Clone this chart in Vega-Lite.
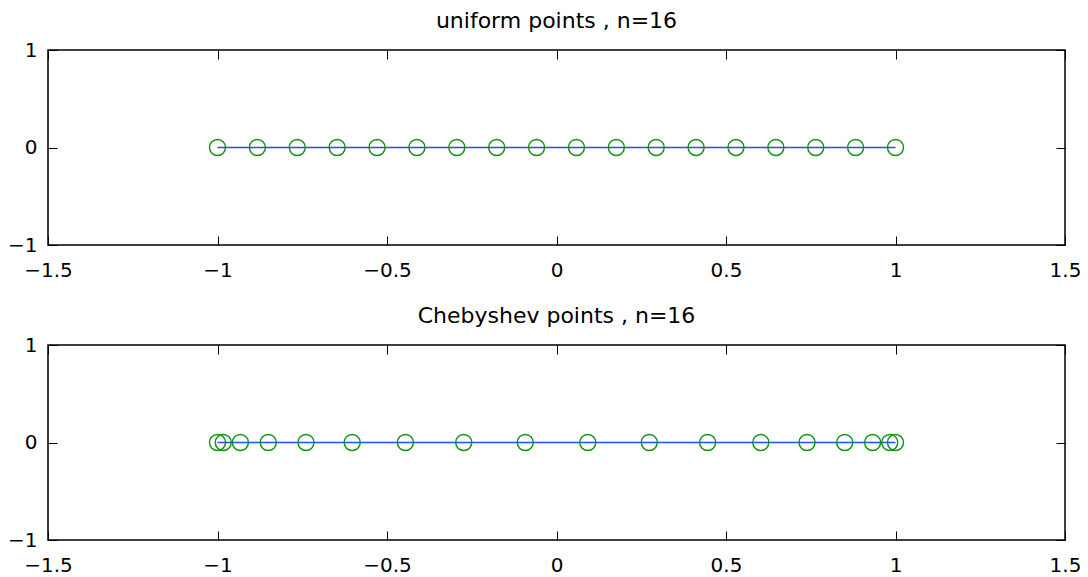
{
  "$schema": "https://vega.github.io/schema/vega-lite/v6.json",
  "autosize": {"type": "pad"},
  "bounds": "flush",
  "padding": {"left": 6, "top": 9, "right": 0, "bottom": 0},
  "spacing": 100,
  "background": "white",
  "config": {
    "view": {"stroke": "#000000", "strokeWidth": 1.5},
    "font": "DejaVu Sans",
    "title": {"font": "DejaVu Sans", "fontSize": 22, "fontWeight": "normal", "color": "#000000", "anchor": "middle", "baseline": "alphabetic", "offset": 7},
    "axis": {
      "labelFont": "DejaVu Sans", "labelFontSize": 20, "labelColor": "#000000",
      "tickColor": "#000000", "tickSize": -9, "tickWidth": 1,
      "grid": false, "domain": false, "title": null,
      "labelFlush": false, "labelOverlap": false, "format": "~g"
    }
  },
  "datasets": {
    "uniform": [
      {"x": -1, "y": 0}, {"x": -0.882353, "y": 0}, {"x": -0.764706, "y": 0}, {"x": -0.647059, "y": 0},
      {"x": -0.529412, "y": 0}, {"x": -0.411765, "y": 0}, {"x": -0.294118, "y": 0}, {"x": -0.176471, "y": 0},
      {"x": -0.058824, "y": 0}, {"x": 0.058824, "y": 0}, {"x": 0.176471, "y": 0}, {"x": 0.294118, "y": 0},
      {"x": 0.411765, "y": 0}, {"x": 0.529412, "y": 0}, {"x": 0.647059, "y": 0}, {"x": 0.764706, "y": 0},
      {"x": 0.882353, "y": 0}, {"x": 1, "y": 0}
    ],
    "cheb": [
      {"x": -1, "y": 0}, {"x": -0.982973, "y": 0}, {"x": -0.932472, "y": 0}, {"x": -0.850217, "y": 0},
      {"x": -0.739009, "y": 0}, {"x": -0.602635, "y": 0}, {"x": -0.445738, "y": 0}, {"x": -0.273663, "y": 0},
      {"x": -0.092268, "y": 0}, {"x": 0.092268, "y": 0}, {"x": 0.273663, "y": 0}, {"x": 0.445738, "y": 0},
      {"x": 0.602635, "y": 0}, {"x": 0.739009, "y": 0}, {"x": 0.850217, "y": 0}, {"x": 0.932472, "y": 0},
      {"x": 0.982973, "y": 0}, {"x": 1, "y": 0}
    ]
  },
  "vconcat": [
    {
      "title": "uniform points , n=16",
      "data": {"name": "uniform"},
      "width": 1017, "height": 195,
      "layer": [
        {
          "mark": {"type": "line", "color": "#2050ff", "strokeWidth": 1.4},
          "encoding": {
            "x": {"field": "x", "type": "quantitative", "scale": {"domain": [-1.5, 1.5], "nice": false, "zero": false},
                  "axis": {"orient": "bottom", "values": [-1.5, -1, -0.5, 0, 0.5, 1, 1.5], "labelPadding": 24}},
            "y": {"field": "y", "type": "quantitative", "scale": {"domain": [-1, 1], "nice": false},
                  "axis": {"orient": "left", "values": [-1, 0, 1], "labelPadding": 20}}
          }
        },
        {
          "mark": {"type": "point", "shape": "circle", "filled": false, "color": "#109010", "size": 256, "strokeWidth": 1.4, "opacity": 1},
          "encoding": {
            "x": {"field": "x", "type": "quantitative", "scale": {"domain": [-1.5, 1.5], "nice": false, "zero": false},
                  "axis": {"orient": "top", "values": [-1.5, -1, -0.5, 0, 0.5, 1, 1.5], "labels": false}},
            "y": {"field": "y", "type": "quantitative", "scale": {"domain": [-1, 1], "nice": false},
                  "axis": {"orient": "right", "values": [-1, 0, 1], "labels": false}}
          }
        }
      ],
      "resolve": {"axis": {"x": "independent", "y": "independent"}}
    },
    {
      "title": "Chebyshev points , n=16",
      "data": {"name": "cheb"},
      "width": 1017, "height": 195,
      "layer": [
        {
          "mark": {"type": "line", "color": "#2050ff", "strokeWidth": 1.4},
          "encoding": {
            "x": {"field": "x", "type": "quantitative", "scale": {"domain": [-1.5, 1.5], "nice": false, "zero": false},
                  "axis": {"orient": "bottom", "values": [-1.5, -1, -0.5, 0, 0.5, 1, 1.5], "labelPadding": 24}},
            "y": {"field": "y", "type": "quantitative", "scale": {"domain": [-1, 1], "nice": false},
                  "axis": {"orient": "left", "values": [-1, 0, 1], "labelPadding": 20}}
          }
        },
        {
          "mark": {"type": "point", "shape": "circle", "filled": false, "color": "#109010", "size": 256, "strokeWidth": 1.4, "opacity": 1},
          "encoding": {
            "x": {"field": "x", "type": "quantitative", "scale": {"domain": [-1.5, 1.5], "nice": false, "zero": false},
                  "axis": {"orient": "top", "values": [-1.5, -1, -0.5, 0, 0.5, 1, 1.5], "labels": false}},
            "y": {"field": "y", "type": "quantitative", "scale": {"domain": [-1, 1], "nice": false},
                  "axis": {"orient": "right", "values": [-1, 0, 1], "labels": false}}
          }
        }
      ],
      "resolve": {"axis": {"x": "independent", "y": "independent"}}
    }
  ]
}
